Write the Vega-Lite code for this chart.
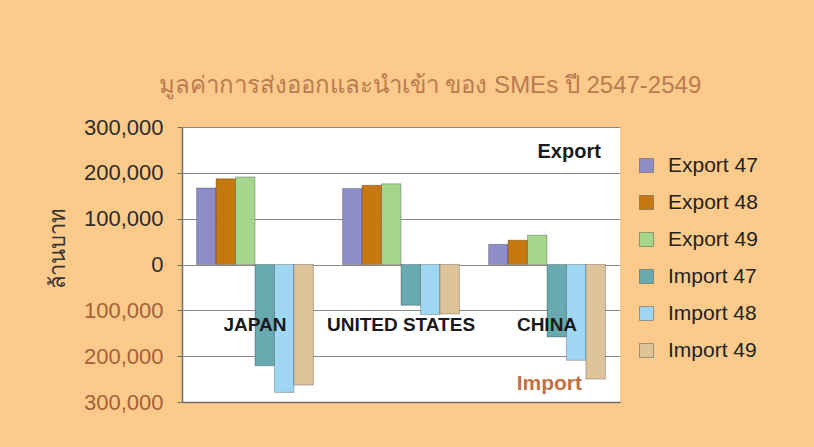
{
  "$schema": "https://vega.github.io/schema/vega-lite/v6.json",
  "width": 438,
  "height": 275,
  "autosize": {"type": "none"},
  "padding": {"left": 182, "top": 127, "right": 194, "bottom": 45},
  "background": "#fccb8b",
  "config": {
    "font": "Liberation Sans",
    "view": {"fill": "white", "stroke": null}
  },
  "title": {
    "text": "มูลค่าการส่งออกและนำเข้า ของ SMEs ปี 2547-2549",
    "fontSize": 24,
    "fontWeight": "normal",
    "color": "#bb7a4f",
    "offset": 18,
    "dx": 29,
    "anchor": "middle"
  },
  "datasets": {
    "trade": [
      {"country": "JAPAN", "series": "Export 47", "value": 167000},
      {"country": "JAPAN", "series": "Export 48", "value": 187000},
      {"country": "JAPAN", "series": "Export 49", "value": 191000},
      {"country": "JAPAN", "series": "Import 47", "value": -221000},
      {"country": "JAPAN", "series": "Import 48", "value": -279000},
      {"country": "JAPAN", "series": "Import 49", "value": -263000},
      {"country": "UNITED STATES", "series": "Export 47", "value": 166000},
      {"country": "UNITED STATES", "series": "Export 48", "value": 173000},
      {"country": "UNITED STATES", "series": "Export 49", "value": 176000},
      {"country": "UNITED STATES", "series": "Import 47", "value": -89000},
      {"country": "UNITED STATES", "series": "Import 48", "value": -109000},
      {"country": "UNITED STATES", "series": "Import 49", "value": -108000},
      {"country": "CHINA", "series": "Export 47", "value": 44000},
      {"country": "CHINA", "series": "Export 48", "value": 53000},
      {"country": "CHINA", "series": "Export 49", "value": 64000},
      {"country": "CHINA", "series": "Import 47", "value": -158000},
      {"country": "CHINA", "series": "Import 48", "value": -209000},
      {"country": "CHINA", "series": "Import 49", "value": -250000}
    ],
    "countries": [
      {"country": "JAPAN"},
      {"country": "UNITED STATES"},
      {"country": "CHINA"}
    ]
  },
  "layer": [
    {
      "data": {"name": "trade"},
      "mark": {"type": "bar", "stroke": "#000000", "strokeOpacity": 0.25, "strokeWidth": 1},
      "encoding": {
        "x": {
          "field": "country",
          "type": "nominal",
          "sort": ["JAPAN", "UNITED STATES", "CHINA"],
          "scale": {"paddingInner": 0.2, "paddingOuter": 0.1},
          "axis": {"labels": false, "ticks": false, "title": null, "domain": true, "domainColor": "#6e6e6e", "domainWidth": 1.5}
        },
        "xOffset": {
          "field": "series",
          "type": "nominal",
          "sort": ["Export 47", "Export 48", "Export 49", "Import 47", "Import 48", "Import 49"]
        },
        "y": {
          "field": "value",
          "type": "quantitative",
          "scale": {"domain": [-300000, 300000], "nice": false},
          "axis": {
            "values": [-300000, -200000, -100000, 0, 100000, 200000, 300000],
            "labelExpr": "format(abs(datum.value), ',')",
            "labelFontSize": 22,
            "labelPadding": 14,
            "labelColor": {"condition": {"test": "datum.value < 0", "value": "#a5603a"}, "value": "#2b2b2b"},
            "tickSize": 5,
            "tickColor": "#6e6e6e",
            "domainColor": "#6e6e6e",
            "domainWidth": 1.5,
            "gridColor": "#8a8a8a",
            "gridWidth": 1,
            "title": "ล้านบาท",
            "titleFontSize": 22,
            "titleFontWeight": "normal",
            "titleColor": "#333333",
            "titleAngle": -90,
            "titleX": -125,
            "titleY": 121,
            "titleAlign": "center",
            "titleBaseline": "middle"
          }
        },
        "color": {
          "field": "series",
          "type": "nominal",
          "sort": ["Export 47", "Export 48", "Export 49", "Import 47", "Import 48", "Import 49"],
          "scale": {
            "domain": ["Export 47", "Export 48", "Export 49", "Import 47", "Import 48", "Import 49"],
            "range": ["#8f8dc9", "#c4780f", "#a6d68c", "#69a9b0", "#9fd7f3", "#dfc49b"]
          },
          "legend": {
            "title": null,
            "orient": "none",
            "legendX": 454,
            "legendY": 28,
            "symbolType": "square",
            "symbolSize": 196,
            "symbolStrokeColor": "#555555",
            "symbolStrokeWidth": 0.5,
            "labelFontSize": 21,
            "labelColor": "#222222",
            "labelOffset": 11,
            "rowPadding": 15
          }
        }
      }
    },
    {
      "data": {"name": "countries"},
      "mark": {"type": "text", "fontSize": 19, "fontWeight": "bold", "color": "#1a1a1a", "baseline": "middle", "align": "center"},
      "encoding": {
        "x": {"field": "country", "type": "nominal", "sort": ["JAPAN", "UNITED STATES", "CHINA"]},
        "y": {"datum": -133000, "type": "quantitative"},
        "text": {"field": "country"}
      }
    },
    {
      "data": {"values": [{"label": "Export"}]},
      "mark": {"type": "text", "fontSize": 20, "fontWeight": "bold", "color": "#1a1a1a", "baseline": "middle", "align": "center"},
      "encoding": {
        "x": {"datum": "CHINA", "type": "nominal", "bandPosition": 0.69},
        "y": {"datum": 245000, "type": "quantitative"},
        "text": {"field": "label"}
      }
    },
    {
      "data": {"values": [{"label": "Import"}]},
      "mark": {"type": "text", "fontSize": 21, "fontWeight": "bold", "color": "#c0713f", "baseline": "middle", "align": "center"},
      "encoding": {
        "x": {"datum": "CHINA", "type": "nominal", "bandPosition": 0.52},
        "y": {"datum": -261000, "type": "quantitative"},
        "text": {"field": "label"}
      }
    }
  ]
}
